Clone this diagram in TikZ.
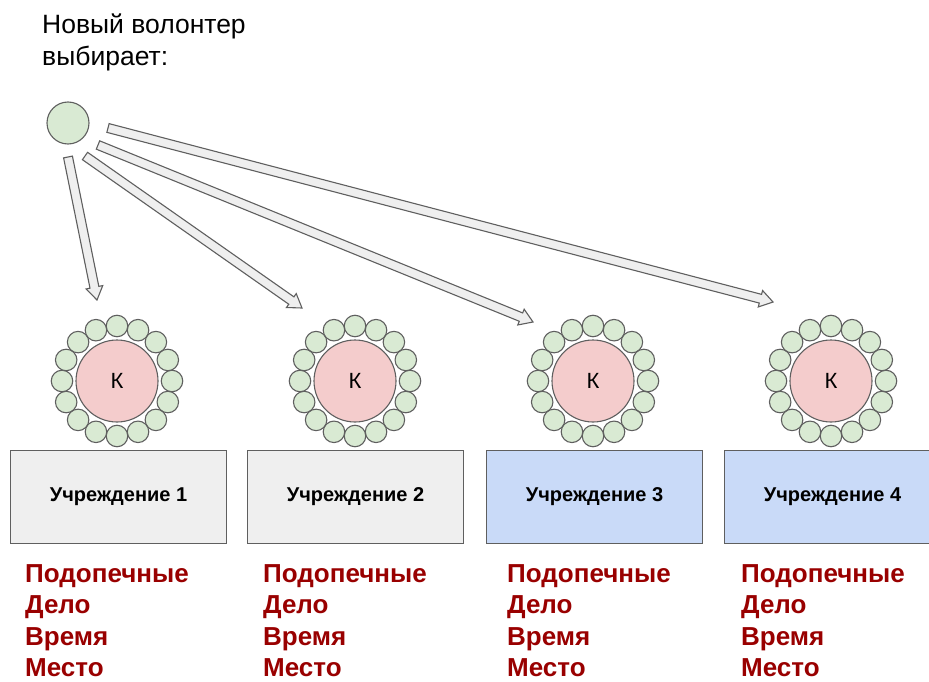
\documentclass[tikz,border=0pt]{standalone}
\usepackage{fontspec}
\setmainfont{Liberation Sans}
\usetikzlibrary{calc}
\definecolor{volgreen}{HTML}{D9EAD3}
\definecolor{kpink}{HTML}{F4CCCC}
\definecolor{boxgray}{HTML}{EFEFEF}
\definecolor{boxblue}{HTML}{C9DAF8}
\definecolor{edgegray}{HTML}{5F5F5F}
\definecolor{darkred}{HTML}{990000}

\begin{document}
\begin{tikzpicture}[x=1pt,y=-1pt,
    member/.style={circle, draw=edgegray, line width=1.1pt, fill=volgreen, minimum size=21.5pt, inner sep=0},
    kcircle/.style={circle, draw=edgegray, line width=1.1pt, fill=kpink, minimum size=82pt, inner sep=0, font=\fontsize{22}{26}\selectfont},
    orgbox/.style={draw=edgegray, line width=1.1pt, minimum width=216pt, minimum height=93pt, anchor=north west, font=\fontsize{20}{24}\selectfont\bfseries},
    needs/.style={anchor=north west, align=left, inner sep=0, text=darkred, font=\fontsize{26}{31.5}\selectfont\bfseries},
    arrowbody/.style={draw=edgegray, line width=1.1pt, fill=boxgray, line join=miter}]
    \clip (0,0) rectangle (929,682);

    % Heading
    \node[anchor=north west, align=left, inner sep=0, font=\fontsize{26.5}{32}\selectfont] (title) at (42,14) {Новый волонтер\\выбирает:};

    % New volunteer
    \node[member, minimum size=42pt] (vol) at (68,123) {};

    % Institutions with curator and volunteers around
    \foreach \i/\cx/\bx/\tx/\fc in {1/117/10/25/boxgray, 2/355/247/263/boxgray, 3/593/486/507/boxblue, 4/831/724/741/boxblue}{
        \node[kcircle] (k\i) at (\cx,381) {К};
        \foreach \a [count=\j] in {0,22.5,...,337.5}
            \node[member] (k\i-\j) at ($(k\i)+(\a:55)$) {};
        \node[orgbox, fill=\fc] (u\i) at (\bx,450) {Учреждение \i};
        \node[needs] (t\i) at (\tx,564) {Подопечные\\Дело\\Время\\Место};
    }

    % Ends of the choice arrows
    \coordinate (s1) at (68,157);  \coordinate (e1) at (97,300);
    \coordinate (s2) at (85,156);  \coordinate (e2) at (302,308);
    \coordinate (s3) at (98,145);  \coordinate (e3) at (533,322);
    \coordinate (s4) at (108,128); \coordinate (e4) at (773,302);

    % Hollow arrows from the volunteer
    \foreach \n in {1,...,4}{
        \coordinate (h\n) at ($(e\n)!13pt!(s\n)$);
        \draw[arrowbody] ($(s\n)!4.5pt!90:(e\n)$) -- ($(h\n)!4.5pt!-90:(s\n)$) -- ($(h\n)!8.5pt!-90:(s\n)$)
            -- (e\n) -- ($(h\n)!8.5pt!90:(s\n)$) -- ($(h\n)!4.5pt!90:(s\n)$) -- ($(s\n)!4.5pt!-90:(e\n)$) -- cycle;
    }
\end{tikzpicture}
\end{document}
